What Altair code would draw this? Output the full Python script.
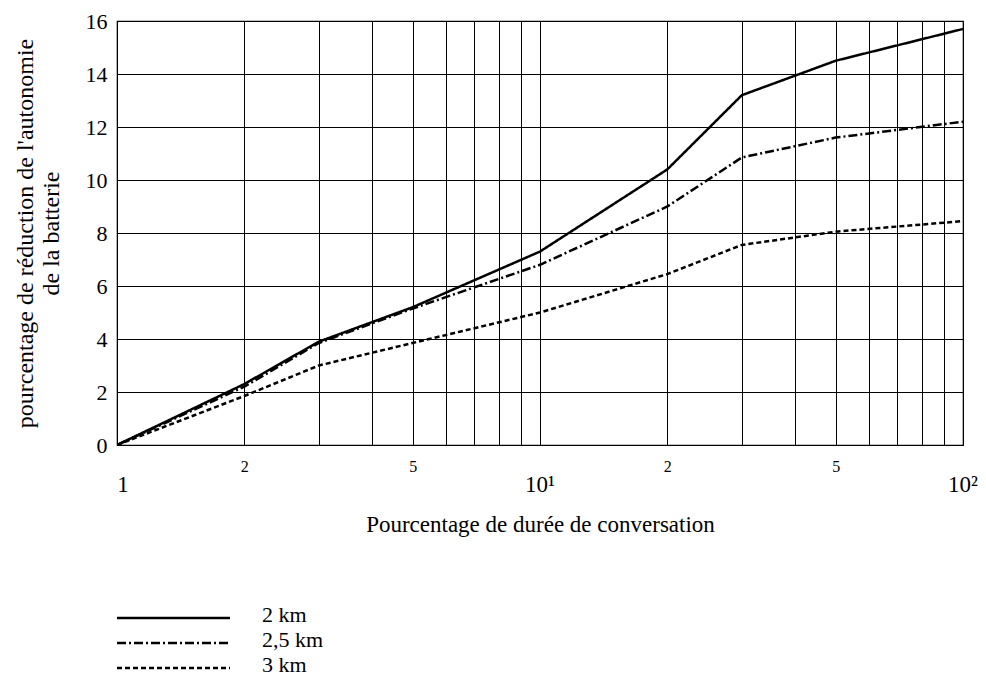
import altair as alt
import pandas as pd

# ---- data ----
durations = [1, 2, 3, 5, 10, 20, 30, 50, 100]
series_names = ["2 km", "2,5 km", "3 km"]
s_2km = [0, 2.3, 3.9, 5.2, 7.3, 10.4, 13.2, 14.5, 15.7]
s_25km = [0, 2.2, 3.85, 5.15, 6.8, 9.0, 10.85, 11.6, 12.2]
s_3km = [0, 1.85, 3.0, 3.85, 5.0, 6.45, 7.55, 8.05, 8.45]
dash_patterns = [[1, 0], [9, 3, 2, 3], [5, 3]]

grid_x = [1, 2, 3, 4, 5, 6, 7, 8, 9, 10, 20, 30, 40, 50, 60, 70, 80, 90, 100]
y_ticks = [0, 2, 4, 6, 8, 10, 12, 14, 16]
major_vals = [1, 10, 100]
major_text = ["1", "10\u00b9", "10\u00b2"]

rows = []
for name, vals in zip(series_names, [s_2km, s_25km, s_3km]):
    for d, v in zip(durations, vals):
        rows.append({"x": d, "y": v, "serie": name})
df = pd.DataFrame(rows)

W, H = 846, 424
FONT = "Liberation Serif"

xscale = alt.Scale(type="log", domain=[1, 100], nice=False)

lines = alt.Chart(df).mark_line(strokeWidth=2.5, color="black", clip=True).encode(
    x=alt.X("x:Q", scale=xscale,
            axis=alt.Axis(values=grid_x, grid=True, ticks=False, domain=False,
                          title="Pourcentage de durée de conversation",
                          titleFont=FONT, titleFontSize=23, titleFontWeight="normal",
                          titleColor="black", titlePadding=39,
                          labelExpr="(datum.value==2||datum.value==20) ? '2' : ((datum.value==5||datum.value==50) ? '5' : '')",
                          labelFont=FONT, labelFontSize=16, labelColor="black",
                          labelPadding=13, labelFlush=False, labelOverlap=False)),
    y=alt.Y("y:Q", scale=alt.Scale(domain=[0, 16], nice=False),
            axis=alt.Axis(values=y_ticks, grid=True, ticks=False, domain=False,
                          title=["pourcentage de réduction de l'autonomie", "de la batterie"],
                          titleFont=FONT, titleFontSize=24, titleFontWeight="normal",
                          titleColor="black", titlePadding=22, titleLineHeight=26,
                          labelFont=FONT, labelFontSize=22, labelColor="black",
                          labelPadding=10)),
    strokeDash=alt.StrokeDash("serie:N",
        scale=alt.Scale(domain=series_names, range=dash_patterns), legend=None),
    detail="serie:N",
)

# major (decade) labels, drawn through the x scale
label_dx = [6, 0, 0]
major_layers = []
for v, t, dx in zip(major_vals, major_text, label_dx):
    major_layers.append(
        alt.Chart(pd.DataFrame({"x": [v], "t": [t]})).mark_text(
            font=FONT, fontSize=23, color="black", align="center",
            baseline="middle", dx=dx).encode(
            x=alt.X("x:Q", scale=xscale), y=alt.value(H + 40), text="t:N")
    )

# manual legend (lines + labels) under the plot
legend_layers = []
for i, (name, dash) in enumerate(zip(series_names, dash_patterns)):
    ly = H + 173 + 25 * i
    legend_layers.append(
        alt.Chart(pd.DataFrame({"serie": [name]})).mark_rule(
            color="black", strokeWidth=2.5, strokeDash=dash).encode(
            x=alt.value(0), x2=alt.value(113), y=alt.value(ly))
    )
    legend_layers.append(
        alt.Chart(pd.DataFrame({"serie": [name]})).mark_text(
            font=FONT, fontSize=22, color="black", align="left", baseline="middle").encode(
            x=alt.value(145), y=alt.value(ly - 3), text="serie:N")
    )

chart = alt.layer(lines, *major_layers, *legend_layers).properties(
    width=W, height=H,
    autosize=alt.AutoSizeParams(type="none"),
    padding={"left": 109, "top": 13, "right": 15, "bottom": 233},
    background="white",
).configure_view(stroke="black", strokeWidth=1.2).configure_axis(
    gridColor="black", gridOpacity=1, gridWidth=1
)

chart.save("out.html", embed_options={"renderer": "svg", "actions": False})
